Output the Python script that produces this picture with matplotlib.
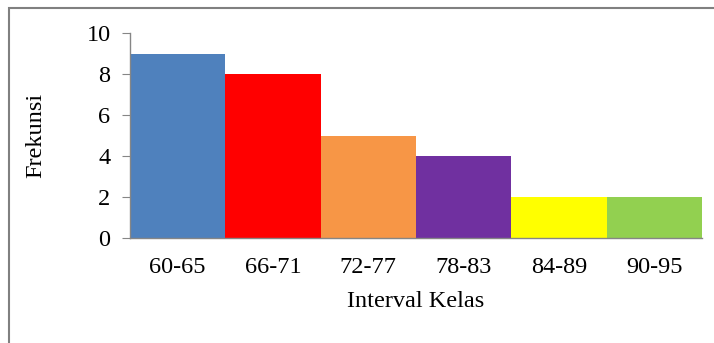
import matplotlib.pyplot as plt
from matplotlib.patches import Rectangle

categories = ["60-65", "66-71", "72-77", "78-83", "84-89", "90-95"]
frekuensi = [9, 8, 5, 4, 2, 2]
colors = ["#4F81BD", "#FF0000", "#F79646", "#7030A0", "#FFFF00", "#92D050"]

plt.rcParams["font.family"] = ["Liberation Serif", "DejaVu Serif"]

fig = plt.figure(figsize=(7.14, 3.43), dpi=100)
ax = fig.add_axes([130 / 714, 105 / 343, 572 / 714, 205 / 343])

x = range(len(categories))
ax.bar(x, frekuensi, width=1.0, color=colors, edgecolor="none")
ax.set_xlim(-0.5, len(categories) - 0.5)
ax.set_ylim(0, 10)
ax.set_yticks(range(0, 11, 2))
ax.set_xticks(list(x))
ax.set_xticklabels(categories)

for side in ["top", "right"]:
    ax.spines[side].set_visible(False)
for side in ["left", "bottom"]:
    ax.spines[side].set_color("#868686")
    ax.spines[side].set_linewidth(1.0)
ax.tick_params(axis="y", length=6, color="#868686", labelsize=17.5, pad=8)
ax.tick_params(axis="x", length=0, labelsize=17.5, pad=14)

ax.set_ylabel("Frekunsi", fontsize=17.5, labelpad=29)
ax.set_xlabel("Interval Kelas", fontsize=17.5, labelpad=9)

# outer chart border (cut off at right/bottom like the screenshot)
fig.patches.append(Rectangle((9 / 714, -0.1), 1.0, 1 - 8 / 343 + 0.1,
                             transform=fig.transFigure, fill=False,
                             edgecolor="#808080", linewidth=1.5))

fig.savefig("out.png", dpi=100)
